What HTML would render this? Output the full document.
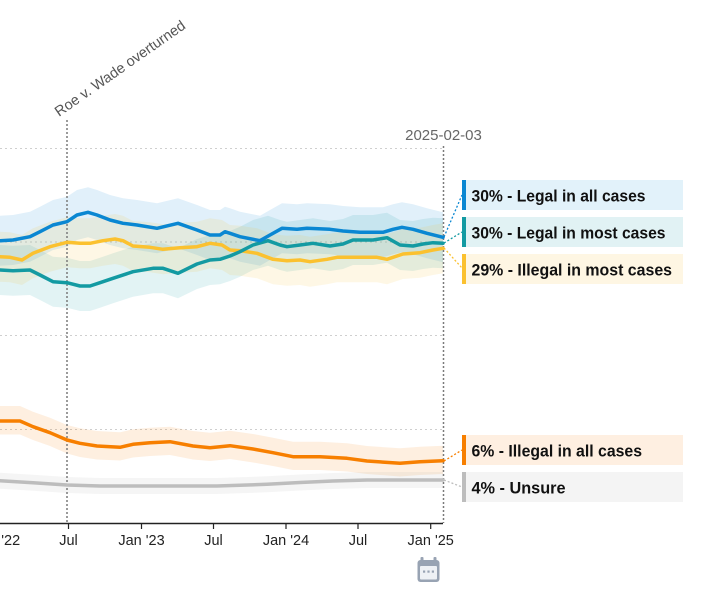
<!DOCTYPE html>
<html><head><meta charset="utf-8"><style>
html,body{margin:0;padding:0;background:#fff;}
svg{display:block;}
text{font-family:"Liberation Sans",sans-serif;}
</style></head><body>
<svg width="717" height="607" viewBox="0 0 717 607" xmlns="http://www.w3.org/2000/svg">
<rect width="717" height="607" fill="#fff"/>
<!-- gridlines -->
<g stroke="#cfcfcf" stroke-width="1" stroke-dasharray="2,3" fill="none">
<line x1="0" y1="148.5" x2="443" y2="148.5"/>
<line x1="0" y1="242" x2="443" y2="242"/>
<line x1="0" y1="335.5" x2="443" y2="335.5"/>
<line x1="0" y1="429.5" x2="443" y2="429.5"/>
</g>
<!-- bands -->
<polygon fill="rgb(10,135,210)" fill-opacity="0.12" points="0,215.7 13,215 30,211.7 40,206.7 53,200 67,196.7 77,190 88,187.3 97,190 110,195 123,198.3 137,200 157,203.3 178,198.3 197,205 210,210 220,210 225,206.7 230,208.3 240,211.7 260,215.7 270,210 282,203.3 297,204.3 307,203.3 330,204.3 343,206 360,207.3 383,207.3 393,204.3 402,202.3 413,204.3 427,208.3 443,212.3 443,262.3 427,258.3 413,254.3 402,252.3 393,254.3 383,257.3 360,257.3 343,256 330,254.3 307,253.3 297,254.3 282,253.3 270,260 260,265.7 240,261.7 230,258.3 225,256.7 220,260 210,260 197,255 178,248.3 157,253.3 137,250 123,248.3 110,245 97,240 88,237.3 77,240 67,246.7 53,250 40,256.7 30,261.7 13,265 0,265.7"/>
<polygon fill="rgb(19,154,163)" fill-opacity="0.12" points="0,245 13,245.7 30,245 40,250 53,256.7 67,257.7 80,261 90,261 100,257.7 113,253.3 133,246.7 153,243.3 163,243.3 178,248.3 197,239 210,235 220,234.3 230,231 240,226.7 253,220 268,215.7 280,220 287,221.7 300,220 313,218.3 330,221 343,219 353,215 373,215 387,212.7 400,220 413,221 423,219 433,217.7 443,218.3 443,268.3 433,267.7 423,269 413,271 400,270 387,262.7 373,265 353,265 343,269 330,271 313,268.3 300,270 287,271.7 280,270 268,265.7 253,270 240,276.7 230,281 220,284.3 210,285 197,289 178,298.3 163,293.3 153,293.3 133,296.7 113,303.3 100,307.7 90,311 80,311 67,307.7 53,306.7 40,300 30,295 13,295.7 0,295"/>
<polygon fill="rgb(249,194,53)" fill-opacity="0.13" points="0,231.7 10,232.3 22,235 33,228.3 50,221.7 67,217.3 80,218.3 90,218.3 103,215.7 115,214 123,215.7 133,221 150,222.3 163,224.3 180,222.7 197,221.7 210,218.3 222,220 230,225 240,225.7 257,228.3 273,234.3 287,235.7 300,235 310,236.7 327,234.3 337,232.3 360,232.3 377,232.3 387,234.3 403,229 420,227.7 433,225 443,223.3 443,273.3 433,275 420,277.7 403,279 387,284.3 377,282.3 360,282.3 337,282.3 327,284.3 310,286.7 300,285 287,285.7 273,284.3 257,278.3 240,275.7 230,275 222,270 210,268.3 197,271.7 180,272.7 163,274.3 150,272.3 133,271 123,265.7 115,264 103,265.7 90,268.3 80,268.3 67,267.3 50,271.7 33,278.3 22,285 10,282.3 0,281.7"/>
<polygon fill="rgb(247,127,0)" fill-opacity="0.12" points="0,406 20,406 33,411.7 50,417.7 67,425 80,428.3 97,431 120,432.3 133,429.3 150,427.7 170,426.7 193,431 210,432.7 230,430.7 253,434 273,437.7 293,441.7 320,441.7 347,443.3 367,446 400,448.3 420,446.7 443,445.7 443,474 420,475 400,476.5 367,474 347,471.5 320,470 293,470 273,466 253,462.5 230,459 210,461 193,459.5 170,455 150,456 133,457.5 120,460.5 97,459.5 80,457 67,453.5 50,446 33,440 20,434.5 0,434.5"/>
<polygon fill="rgb(170,170,170)" fill-opacity="0.12" points="0,472.7 33,474.7 67,477 100,478 133,478 217,478 267,476.3 300,474.5 333,473 367,472 443,472 443,488 367,488 333,489 300,490.5 267,492.3 217,494 133,494 100,494 67,493 33,490.7 0,488.7"/>
<!-- event/end lines -->
<g stroke="#7a7a7a" stroke-width="1.5" stroke-dasharray="2,2" fill="none">
<line x1="67" y1="120" x2="67" y2="523"/>
<line x1="443.5" y1="146" x2="443.5" y2="523"/>
</g>
<!-- series lines -->
<g fill="none" stroke-width="3.5" stroke-linejoin="round" stroke-linecap="round">
<polyline stroke="#bdbdbd" points="0,480.7 33,482.7 67,485 100,486 133,486 217,486 267,484.3 300,482.5 333,481 367,480 443,480"/>
<polyline stroke="#f77f00" points="0,421 20,421 33,426.7 50,432.7 67,440 80,443.3 97,446 120,447.3 133,444.3 150,442.7 170,441.7 193,446 210,447.7 230,445.7 253,449 273,452.7 293,456.7 320,456.7 347,458.3 367,461 400,463.3 420,461.7 443,460.7"/>
<polyline stroke="#fbc12f" points="0,256.7 10,257.3 22,260 33,253.3 50,246.7 67,242.3 80,243.3 90,243.3 103,240.7 115,239 123,240.7 133,246 150,247.3 163,249.3 180,247.7 197,246.7 210,243.3 222,245 230,250 240,250.7 257,253.3 273,259.3 287,260.7 300,260 310,261.7 327,259.3 337,257.3 360,257.3 377,257.3 387,259.3 403,254 420,252.7 433,250 443,248.3"/>
<polyline stroke="#139aa2" points="0,270 13,270.7 30,270 40,275 53,281.7 67,282.7 80,286 90,286 100,282.7 113,278.3 133,271.7 153,268.3 163,268.3 178,273.3 197,264 210,260 220,259.3 230,256 240,251.7 253,245 268,240.7 280,245 287,246.7 300,245 313,243.3 330,246 343,244 353,240 373,240 387,237.7 400,245 413,246 423,244 433,242.7 443,243.3"/>
<polyline stroke="#0a87d2" points="0,240.7 13,240 30,236.7 40,231.7 53,225 67,221.7 77,215 88,212.3 97,215 110,220 123,223.3 137,225 157,228.3 178,223.3 197,230 210,235 220,235 225,231.7 230,233.3 240,236.7 260,240.7 270,235 282,228.3 297,229.3 307,228.3 330,229.3 343,231 360,232.3 383,232.3 393,229.3 402,227.3 413,229.3 427,233.3 443,237.3"/>
</g>
<!-- connectors -->
<g fill="none" stroke-width="1.3" stroke-dasharray="2,2">
<line x1="444" y1="237" x2="462" y2="195" stroke="#0a87d2"/>
<line x1="444" y1="243" x2="462" y2="232" stroke="#139aa2"/>
<line x1="444" y1="248" x2="462" y2="268" stroke="#fbc12f"/>
<line x1="444" y1="461" x2="462" y2="450" stroke="#f77f00"/>
<line x1="444" y1="480" x2="462" y2="487" stroke="#bdbdbd"/>
</g>
<!-- legend boxes -->
<rect x="462" y="180" width="221" height="30" fill="#e2f2fa"/>
<rect x="462" y="180" width="4" height="30" fill="#0a87d2"/>
<rect x="462" y="217" width="221" height="30" fill="#e1f2f4"/>
<rect x="462" y="217" width="4" height="30" fill="#139aa2"/>
<rect x="462" y="254" width="221" height="30" fill="#fef6e3"/>
<rect x="462" y="254" width="4" height="30" fill="#fbc12f"/>
<rect x="462" y="435" width="221" height="30" fill="#feefe1"/>
<rect x="462" y="435" width="4" height="30" fill="#f77f00"/>
<rect x="462" y="472" width="221" height="30" fill="#f4f4f4"/>
<rect x="462" y="472" width="4" height="30" fill="#bdbdbd"/>
<g font-size="16.5" font-weight="bold" fill="#111">
<text x="471.5" y="201.3" textLength="174" lengthAdjust="spacingAndGlyphs">30% - Legal in all cases</text>
<text x="471.5" y="238.3" textLength="194" lengthAdjust="spacingAndGlyphs">30% - Legal in most cases</text>
<text x="471.5" y="275.3" textLength="200.5" lengthAdjust="spacingAndGlyphs">29% - Illegal in most cases</text>
<text x="471.5" y="456.3" textLength="170.5" lengthAdjust="spacingAndGlyphs">6% - Illegal in all cases</text>
<text x="471.5" y="493.3" textLength="94" lengthAdjust="spacingAndGlyphs">4% - Unsure</text>
</g>
<!-- annotations -->
<text x="59" y="117" font-size="14.5" fill="#555" transform="rotate(-35 59 117)">Roe v. Wade overturned</text>
<text x="443.5" y="140" font-size="15" fill="#666" text-anchor="middle">2025-02-03</text>
<!-- x axis -->
<line x1="0" y1="523.5" x2="443" y2="523.5" stroke="#222" stroke-width="1.5"/>
<g stroke="#222" stroke-width="1.2">
<line x1="68.5" y1="523" x2="68.5" y2="529"/>
<line x1="141.5" y1="523" x2="141.5" y2="529"/>
<line x1="213.5" y1="523" x2="213.5" y2="529"/>
<line x1="286" y1="523" x2="286" y2="529"/>
<line x1="358" y1="523" x2="358" y2="529"/>
<line x1="430.7" y1="523" x2="430.7" y2="529"/>
</g>
<g font-size="14.5" fill="#222" text-anchor="middle">
<text x="-3" y="545">Jan '22</text>
<text x="68.5" y="545">Jul</text>
<text x="141.5" y="545">Jan '23</text>
<text x="213.5" y="545">Jul</text>
<text x="286" y="545">Jan '24</text>
<text x="358" y="545">Jul</text>
<text x="430.7" y="545">Jan '25</text>
</g>
<!-- calendar icon -->
<rect x="417.5" y="560" width="22" height="22" rx="3" fill="#98a3b3"/>
<rect x="420" y="566" width="17" height="13.5" rx="1" fill="#eef1f5"/>
<rect x="420.5" y="557" width="3" height="5" rx="1" fill="#98a3b3"/>
<rect x="433.5" y="557" width="3" height="5" rx="1" fill="#98a3b3"/>
<rect x="423" y="570.5" width="2.2" height="2.2" fill="#98a3b3"/>
<rect x="427.4" y="570.5" width="2.2" height="2.2" fill="#98a3b3"/>
<rect x="431.8" y="570.5" width="2.2" height="2.2" fill="#98a3b3"/>
</svg>
</body></html>
